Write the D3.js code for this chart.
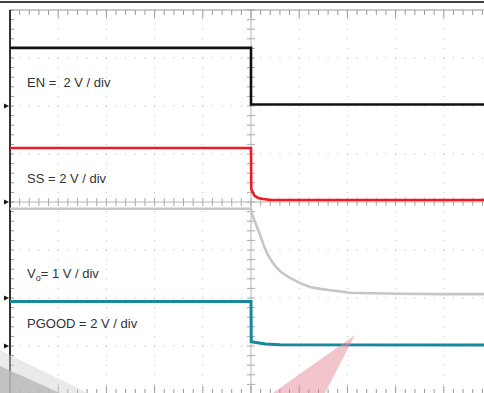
<!DOCTYPE html>
<html>
<head>
<meta charset="utf-8">
<script src="https://cdn.jsdelivr.net/npm/d3@7"></script>
<style>
  body { margin: 0; background: #fff; }
  svg { display: block; font-family: "Liberation Sans", Arial, sans-serif; }
  .label { font-size: 13px; fill: #333; white-space: pre; }
</style>
</head>
<body>
<svg id="graph"></svg>
<script>
// scope channel settings (volts per division and ground marker, in divisions)
const channelNames = ["EN", "SS", "VO", "PGOOD"];
const voltsPerDiv = [2, 2, 1, 2];
const groundDiv = [2, 0, -2, -3];

// traces, time in divisions, value in volts
const enTime = [0, 5.0, 5.0, 10];
const enVolts = [2.42, 2.42, 0.06, 0.06];

const ssTime = [0, 5.0, 5.005, 5.04, 5.08, 5.15, 5.25, 5.39, 10];
const ssVolts = [2.25, 2.25, 0.55, 0.375, 0.25, 0.17, 0.125, 0.09, 0.08];

const voTime = [0, 5.0, 5.02, 5.10, 5.19, 5.27, 5.35, 5.44, 5.52, 5.60, 5.71, 5.81, 6.02, 6.22, 6.43, 6.74, 7.05, 7.47, 8.09, 8.92, 10];
const voVolts = [1.86, 1.86, 1.75, 1.54, 1.31, 1.08, 0.90, 0.75, 0.65, 0.56, 0.48, 0.42, 0.31, 0.23, 0.19, 0.15, 0.11, 0.10, 0.09, 0.08, 0.08];

const pgTime = [0, 5.0, 5.005, 5.1, 5.3, 5.6, 10];
const pgVolts = [1.85, 1.85, 0.18, 0.15, 0.08, 0.05, 0.04];

const traceTimes = [enTime, ssTime, voTime, pgTime];
const traceVolts = [enVolts, ssVolts, voVolts, pgVolts];
const traceColors = ["#111111", "#ec1c24", "#c6c6c6", "#17899a"];

// channel labels
const labelTexts = ["EN =  2 V / div", "SS = 2 V / div", "= 1 V / div", "PGOOD = 2 V / div"];
const labelDiv = [2.4, 0.4, -1.58, -2.62];

var width = 484, height = 393;

const svg = d3.select('#graph').attr('width', width).attr('height', height);

// graticule: 10 x 8 divisions
const x = d3.scaleLinear().domain([0, 10]).range([10, 492]);
const y = d3.scaleLinear().domain([-4, 4]).range([394, 10]);

const minorX = d3.range(0, 10.001, 0.2);
const minorY = d3.range(-4, 4.001, 0.2);
const isMajor = v => Math.abs(v - Math.round(v)) < 1e-6;

// top frame line
svg.append('line').attr('x1', 0).attr('x2', width).attr('y1', 2).attr('y2', 2)
  .attr('stroke', '#000').attr('stroke-width', 1.6);

const grid = svg.append('g');

// dotted grid lines
d3.range(1, 10).filter(i => i != 5).forEach(i => {
  grid.selectAll(null).data(minorY).join('rect')
    .attr('x', x(i) - 0.5).attr('y', d => y(d) - 0.5)
    .attr('width', 1).attr('height', 1).attr('fill', '#b8b8b8');
});
d3.range(-3, 4).filter(j => j != 0).forEach(j => {
  grid.selectAll(null).data(minorX).join('rect')
    .attr('x', d => x(d) - 0.5).attr('y', y(j) - 0.5)
    .attr('width', 1).attr('height', 1).attr('fill', '#b8b8b8');
});

// centre axes with minor ticks
grid.append('line').attr('x1', x(5)).attr('x2', x(5)).attr('y1', y(4)).attr('y2', y(-4))
  .attr('stroke', '#b5b5b5').attr('stroke-width', 1);
grid.append('line').attr('x1', x(0)).attr('x2', x(10)).attr('y1', y(0)).attr('y2', y(0))
  .attr('stroke', '#b5b5b5').attr('stroke-width', 1);
grid.selectAll('.vtick').data(minorY).join('line').attr('class', 'vtick')
  .attr('x1', x(5) - 4).attr('x2', x(5) + 4)
  .attr('y1', d => y(d)).attr('y2', d => y(d))
  .attr('stroke', '#aaa');
grid.selectAll('.htick').data(minorX).join('line').attr('class', 'htick')
  .attr('x1', d => x(d)).attr('x2', d => x(d))
  .attr('y1', y(0) - 4).attr('y2', y(0) + 4)
  .attr('stroke', '#aaa');

// outer frame ticks: top, bottom, left
grid.append('line').attr('x1', x(0)).attr('x2', width).attr('y1', y(4)).attr('y2', y(4))
  .attr('stroke', '#999');
grid.selectAll('.ttick').data(minorX).join('line').attr('class', 'ttick')
  .attr('x1', d => x(d)).attr('x2', d => x(d))
  .attr('y1', y(4)).attr('y2', d => y(4) + (isMajor(d) ? 8 : 5))
  .attr('stroke', '#999');
grid.selectAll('.btick').data(minorX).join('line').attr('class', 'btick')
  .attr('x1', d => x(d)).attr('x2', d => x(d))
  .attr('y1', y(-4)).attr('y2', d => y(-4) - (isMajor(d) ? 8 : 5))
  .attr('stroke', '#999');
grid.selectAll('.ltick').data(minorY).join('line').attr('class', 'ltick')
  .attr('x1', x(0)).attr('x2', x(0) + 4)
  .attr('y1', d => y(d)).attr('y2', d => y(d))
  .attr('stroke', '#999');
grid.append('line').attr('x1', x(0)).attr('x2', x(0)).attr('y1', y(4)).attr('y2', height)
  .attr('stroke', '#333').attr('stroke-width', 2);

// ground markers on the left
svg.selectAll('.marker').data(groundDiv).join('path').attr('class', 'marker')
  .attr('d', d => `M4,${y(d) - 2.5}L9,${y(d)}L4,${y(d) + 2.5}Z`)
  .attr('fill', '#111');

// traces
channelNames.forEach((name, c) => {
  const pts = traceTimes[c].map((t, k) => [t, traceVolts[c][k]]);
  const line = d3.line()
    .x(d => x(d[0]))
    .y(d => y(groundDiv[c] + d[1] / voltsPerDiv[c]));
  svg.append('path').datum(pts)
    .attr('d', line)
    .attr('fill', 'none')
    .attr('stroke', traceColors[c])
    .attr('stroke-width', c == 3 ? 3 : 2.6);
});

// channel labels
channelNames.forEach((name, c) => {
  const t = svg.append('text').attr('class', 'label')
    .attr('x', 27).attr('y', y(labelDiv[c]));
  if (name == "VO") {
    t.append('tspan').text('V');
    t.append('tspan').text('o').attr('font-size', '9px').attr('dy', 3);
    t.append('tspan').text(labelTexts[c]).attr('dy', -3);
  } else {
    t.text(labelTexts[c]);
  }
});

// faint logo watermark pieces
svg.append('path').attr('d', 'M0,350L0,393L88,393Z')
  .attr('fill', '#d0d0d0').attr('opacity', 0.45);
svg.append('path').attr('d', 'M0,366L0,393L60,393Z')
  .attr('fill', '#b8b8b8').attr('opacity', 0.8);
svg.append('path').attr('d', 'M355,335L273,393L325,393Z')
  .attr('fill', '#e58a98').attr('opacity', 0.5);
</script>
</body>
</html>
